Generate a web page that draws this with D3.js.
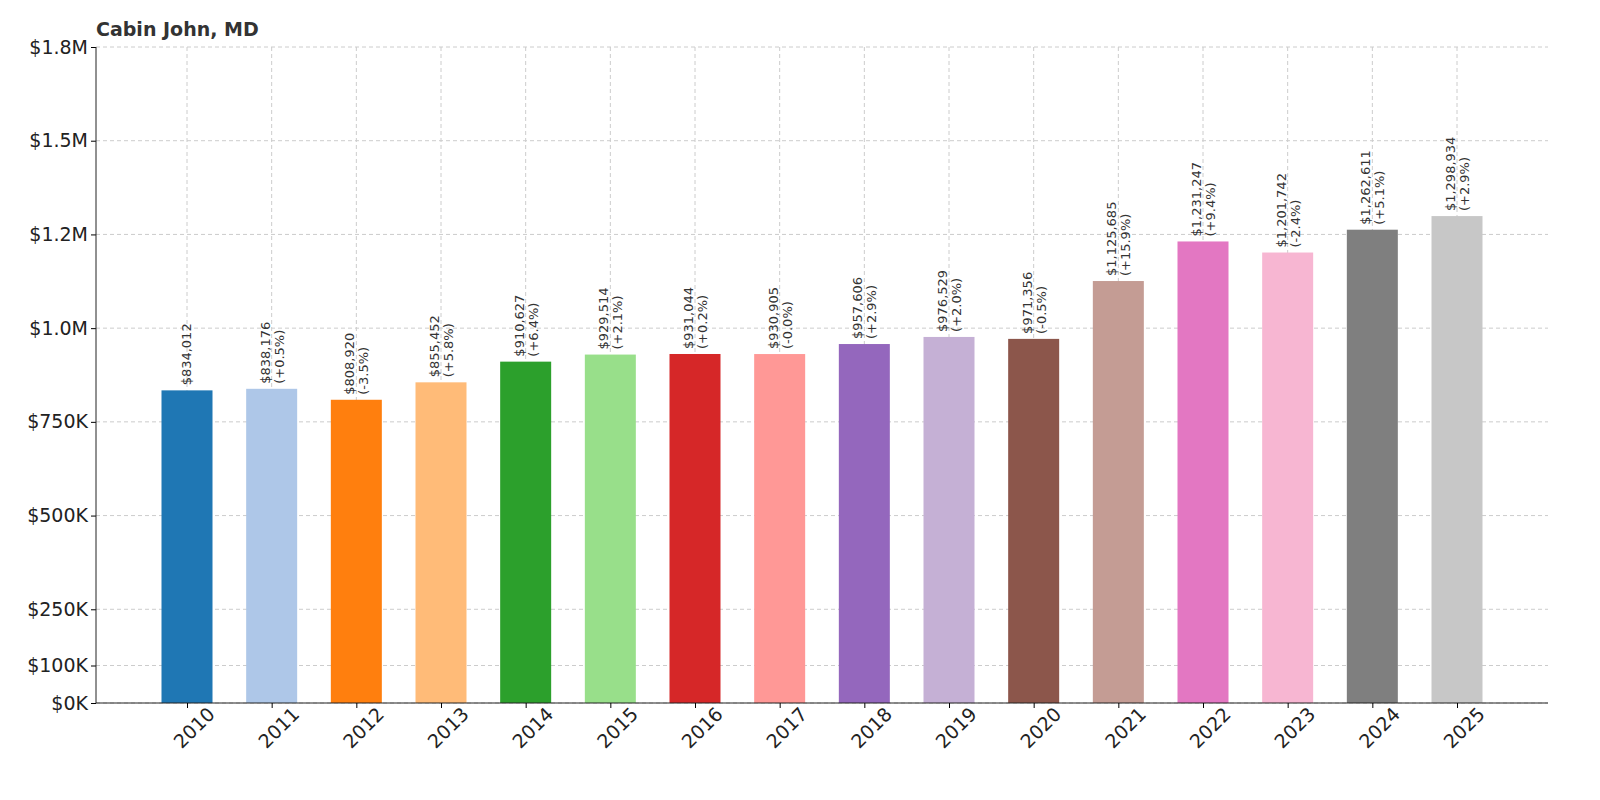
<!DOCTYPE html>
<html><head><meta charset="utf-8">
<script src="https://cdn.jsdelivr.net/npm/d3@7"></script>
<style>body{margin:0;background:#fff}text{font-family:"DejaVu Sans",sans-serif}</style>
</head><body><svg id="c" width="1600" height="800"></svg>
<script>
const years=["2010","2011","2012","2013","2014","2015","2016","2017","2018","2019","2020","2021","2022","2023","2024","2025"];
const values=[834012,838176,808920,855452,910627,929514,931044,930905,957606,976529,971356,1125685,1231247,1201742,1262611,1298934];
const changes=["","(+0.5%)","(-3.5%)","(+5.8%)","(+6.4%)","(+2.1%)","(+0.2%)","(-0.0%)","(+2.9%)","(+2.0%)","(-0.5%)","(+15.9%)","(+9.4%)","(-2.4%)","(+5.1%)","(+2.9%)"];
const colors=["#1f77b4","#aec7e8","#ff7f0e","#ffbb78","#2ca02c","#98df8a","#d62728","#ff9896","#9467bd","#c5b0d5","#8c564b","#c49c94","#e377c2","#f7b6d2","#7f7f7f","#c7c7c7"];
const yTicks=[0,100000,250000,500000,750000,1000000,1250000,1500000,1750000];
const yTickLabels=["$0K","$100K","$250K","$500K","$750K","$1.0M","$1.2M","$1.5M","$1.8M"];
const svg=d3.select("#c");
const y=d3.scaleLinear().domain([0,1750000]).range([703,47]);
const x=d3.scalePoint().domain(years).range([187,1457]);
const L=96,R=1548;
svg.append("g").selectAll("line").data(yTicks).join("line").attr("x1",L).attr("x2",R).attr("y1",d=>y(d)).attr("y2",d=>y(d)).attr("stroke","#ccc").attr("stroke-dasharray","4,3");
svg.append("g").selectAll("line").data(years).join("line").attr("x1",d=>x(d)).attr("x2",d=>x(d)).attr("y1",47).attr("y2",703).attr("stroke","#ccc").attr("stroke-dasharray","4,3");
const bw=51;
svg.append("g").selectAll("rect").data(values).join("rect").attr("x",(d,i)=>x(years[i])-bw/2).attr("width",bw).attr("y",d=>y(d)).attr("height",d=>703-y(d)).attr("fill",(d,i)=>colors[i]);
const lg=svg.append("g");
values.forEach((v,i)=>{
  const cx=x(years[i]),top=y(v)-5;
  const t=lg.append("text").attr("transform",`translate(${cx},${top}) rotate(-90)`).attr("font-size",13).attr("fill","#333");
  if(changes[i]){
    t.append("tspan").attr("x",0).attr("y",-2).text("$"+d3.format(",")(v));
    t.append("tspan").attr("x",0).attr("y",12).text(changes[i]);
  } else t.append("tspan").attr("x",0).attr("y",4).text("$"+d3.format(",")(v));
});
const ya=svg.append("g").attr("transform",`translate(${L},0)`).call(d3.axisLeft(y).tickValues(yTicks).tickFormat((d,i)=>yTickLabels[i]).tickSize(5));
ya.select(".domain").remove();
ya.selectAll("text").attr("font-size",19).attr("fill","#222").attr("font-family","DejaVu Sans");
svg.append("line").attr("x1",L).attr("x2",L).attr("y1",47).attr("y2",703).attr("stroke","#222");
svg.append("line").attr("x1",L).attr("x2",R).attr("y1",703).attr("y2",703).attr("stroke","#222");
const xa=svg.append("g").attr("transform","translate(0,703)").call(d3.axisBottom(x).tickSize(5));
xa.select(".domain").remove();
xa.selectAll("text").attr("font-size",19).attr("fill","#222").attr("font-family","DejaVu Sans").attr("text-anchor","end").attr("dx","0.6em").attr("dy","1.1em").attr("transform","rotate(-45)");
svg.append("text").attr("x",96).attr("y",36).attr("font-size",19).attr("font-weight","bold").attr("fill","#333").text("Cabin John, MD");
</script></body></html>
